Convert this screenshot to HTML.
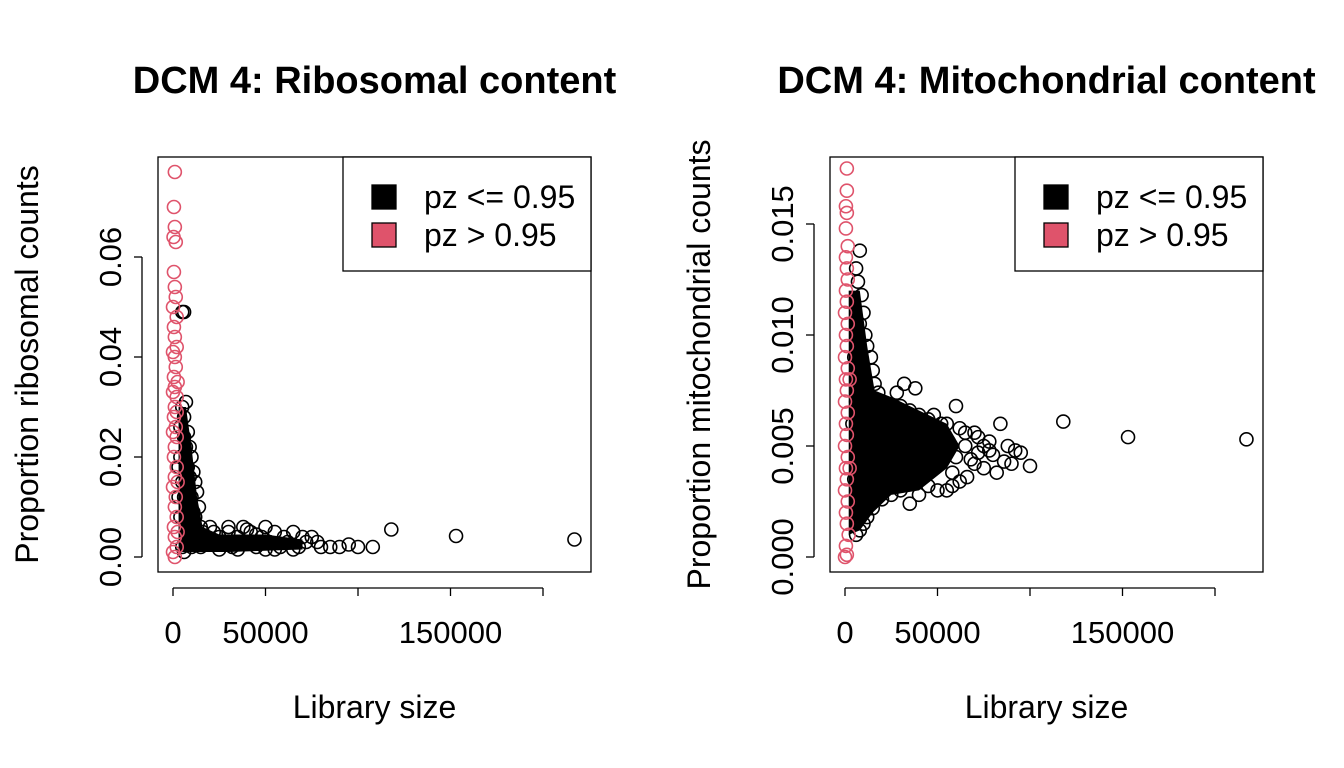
<!DOCTYPE html>
<html><head><meta charset="utf-8"><style>
html,body{margin:0;padding:0;background:#fff;}
svg{display:block;font-family:"Liberation Sans",sans-serif;}
</style></head><body>
<svg id="chart" width="1344" height="768"></svg>
<script>
// ---------- data (x in thousands of reads, y proportion) ----------
const riboBlack = [[5,0.030],[6,0.028],[7,0.031],[8,0.025],[9,0.022],[10,0.020],[6,0.049],[5,0.049],[11,0.017],[12,0.015],[13,0.013],[8,0.018],[7,0.022],[6,0.024],[9,0.016],[10,0.012],[4,0.026],[4,0.020],[5,0.015],[6,0.012],[7,0.010],[8,0.008],[9,0.007],[10,0.006],[12,0.008],[15,0.006],[14,0.010],[16,0.005],[11,0.009],[3,0.018],[3,0.012],[4,0.008],[13,0.004],[18,0.004],[20,0.003],[22,0.005],[25,0.004],[28,0.003],[30,0.005],[32,0.002],[35,0.004],[38,0.006],[40,0.003],[42,0.005],[45,0.002],[48,0.004],[50,0.006],[52,0.003],[55,0.005],[58,0.002],[60,0.004],[62,0.003],[65,0.005],[68,0.002],[70,0.004],[72,0.003],[75,0.004],[78,0.003],[80,0.002],[85,0.002],[90,0.002],[95,0.0025],[100,0.002],[108,0.002],[118,0.0055],[153,0.0042],[217,0.0035],[15,0.002],[25,0.0015],[35,0.0015],[45,0.0045],[55,0.0015],[65,0.0015],[30,0.006],[20,0.006],[10,0.002],[5,0.002],[6,0.001],[8,0.0035],[12,0.0025],[24,0.0025],[40,0.0055],[50,0.0015]];
const riboRed = [[1,0.077],[0.5,0.070],[1,0.066],[0.3,0.064],[1.5,0.063],[0.5,0.057],[1,0.054],[1.5,0.052],[0,0.050],[2,0.048],[0.5,0.046],[1,0.044],[2,0.042],[0,0.041],[1,0.040],[1.5,0.038],[0.5,0.036],[2.5,0.035],[1,0.034],[0,0.033],[2,0.032],[1,0.030],[2,0.029],[0.5,0.028],[1.5,0.026],[0,0.025],[2,0.024],[1,0.022],[0.5,0.020],[2,0.018],[1,0.016],[0,0.014],[1.5,0.012],[1,0.010],[2,0.008],[0.5,0.006],[1,0.004],[2,0.002],[0,0.001],[1,0.000],[2.5,0.015],[2.5,0.005]];
const mitoBlack = [[8,0.0138],[6,0.0130],[7,0.0124],[9,0.0118],[10,0.0110],[8,0.0105],[11,0.0100],[12,0.0095],[14,0.0090],[15,0.0084],[16,0.0078],[18,0.0074],[20,0.0070],[22,0.0068],[28,0.0074],[32,0.0078],[38,0.0076],[30,0.0068],[35,0.0066],[40,0.0064],[45,0.0062],[48,0.0064],[52,0.0060],[55,0.0060],[60,0.0068],[62,0.0058],[65,0.0056],[70,0.0056],[72,0.0054],[75,0.0050],[78,0.0048],[80,0.0046],[84,0.0060],[88,0.0050],[92,0.0048],[95,0.0047],[90,0.0042],[86,0.0043],[100,0.0041],[82,0.0038],[75,0.0040],[70,0.0042],[66,0.0036],[62,0.0034],[58,0.0032],[55,0.0030],[50,0.0030],[45,0.0032],[40,0.0028],[35,0.0024],[30,0.0030],[25,0.0028],[20,0.0026],[15,0.0022],[12,0.0018],[10,0.0015],[8,0.0012],[6,0.0010],[118,0.0061],[153,0.0054],[217,0.0053],[5,0.0090],[6,0.0070],[7,0.0050],[5,0.0035],[4,0.0060],[10,0.0080],[13,0.0070],[60,0.0045],[65,0.0050],[68,0.0044],[72,0.0047],[78,0.0052],[56,0.0052],[58,0.0038]];
const mitoRed = [[1,0.0175],[1,0.0165],[0.5,0.0158],[1,0.0155],[0.5,0.0148],[1.5,0.0140],[0.5,0.0135],[1,0.0130],[1.5,0.0125],[0.5,0.0120],[1,0.0115],[0,0.0110],[1.5,0.0105],[0.5,0.0100],[1,0.0095],[0,0.0090],[1.5,0.0085],[0.5,0.0080],[1,0.0075],[0,0.0070],[1.5,0.0065],[0.5,0.0060],[1,0.0055],[0,0.0050],[1.5,0.0045],[0.5,0.0040],[1,0.0035],[0,0.0030],[1.5,0.0025],[0.5,0.0020],[1,0.0015],[2,0.0010],[0.5,0.0005],[0,0.0000],[1,0.0001],[2.5,0.0080],[2.5,0.0040]];
// dense cores (outline of solidly overplotted region, data units)
const riboCore = [[3,0.001],[3,0.030],[7,0.030],[10,0.022],[13,0.012],[16,0.006],[25,0.0045],[50,0.0045],[70,0.0035],[70,0.0015],[30,0.001]];
const mitoCore = [[2,0.001],[2,0.012],[8,0.012],[12,0.0095],[16,0.0075],[25,0.0072],[40,0.0066],[55,0.006],[62,0.005],[55,0.004],[40,0.003],[25,0.0028],[15,0.002],[8,0.0012]];
const xTicks = [0,50,100,150,200];
const xTickLabels = ["0","50000","","150000",""];
const riboYTicks = [0,0.02,0.04,0.06];
const riboYLabels = ["0.00","0.02","0.04","0.06"];
const mitoYTicks = [0,0.005,0.010,0.015];
const mitoYLabels = ["0.000","0.005","0.010","0.015"];

const svg = document.getElementById('chart');
const NS = 'http://www.w3.org/2000/svg';
function mk(tag, attrs, parent){ const e=document.createElementNS(NS,tag); for(const k in attrs) e.setAttribute(k,attrs[k]); (parent||svg).appendChild(e); return e; }

function panel(p){
  const g = mk('g',{});
  
  
  const L=p.left, R=p.left+433, T=157, B=572;
  const sx = v => p.x0 + v*p.xs;
  const sy = v => 557 - v*p.ys;
  const t = mk('text',{x:(L+R)/2,y:93,'text-anchor':'middle','font-size':38,'font-weight':'bold'},g);
  t.textContent = p.title;
  
  
  const core = mk('polygon',{points:p.core.map(d=>sx(d[0])+','+sy(d[1])).join(' '),fill:'#000'},g);
  
  
  p.black.forEach(d=>{
    const c = mk('circle',{cx:sx(d[0]),cy:sy(d[1]),r:6.5,fill:'none',stroke:'#000','stroke-width':1.6},g);
    
    
  });
  p.red.forEach(d=>{
    const c = mk('circle',{cx:sx(d[0]),cy:sy(d[1]),r:6.5,fill:'none',stroke:'#DF536B','stroke-width':1.6},g);
    
    
  });
  const fr = mk('rect',{x:L,y:T,width:433,height:415,fill:'none',stroke:'#000','stroke-width':1.3},g);
  
  
  mk('line',{x1:sx(xTicks[0]),x2:sx(xTicks[xTicks.length-1]),y1:588,y2:588,stroke:'#000','stroke-width':1.3},g);
  xTicks.forEach((v,i)=>{
    mk('line',{x1:sx(v),x2:sx(v),y1:588,y2:596,stroke:'#000','stroke-width':1.3},g);
    if(xTickLabels[i]){
      const tl = mk('text',{x:sx(v),y:643,'text-anchor':'middle','font-size':31},g);
      tl.textContent = xTickLabels[i];
      
      
    }
  });
  mk('line',{x1:L-16,x2:L-16,y1:sy(p.yTicks[0]),y2:sy(p.yTicks[p.yTicks.length-1]),stroke:'#000','stroke-width':1.3},g);
  p.yTicks.forEach((v,i)=>{
    mk('line',{x1:L-16,x2:L-24,y1:sy(v),y2:sy(v),stroke:'#000','stroke-width':1.3},g);
    const tl = mk('text',{x:0,y:0,'text-anchor':'middle','font-size':31,transform:`translate(${L-37},${sy(v)}) rotate(-90)`},g);
    tl.textContent = p.yLabels[i];
    
    
  });
  const xt = mk('text',{x:(L+R)/2,y:718,'text-anchor':'middle','font-size':32},g);
  xt.textContent='Library size';
  
  
  const yt = mk('text',{x:0,y:0,'text-anchor':'middle','font-size':32,transform:`translate(${L-120},${(T+B)/2}) rotate(-90)`},g);
  yt.textContent=p.ytitle;
  
  
  const lg = mk('g',{},g);
  
  
  mk('rect',{x:R-248,y:T,width:248,height:114,fill:'#fff',stroke:'#000','stroke-width':1.3},lg);
  [['#000','pz <= 0.95',197],['#DF536B','pz > 0.95',235]].forEach(e=>{
    const r = mk('rect',{x:R-219,y:e[2]-12,width:24,height:24,fill:e[0],stroke:'#000','stroke-width':1.3},lg);
    
    
    const tx = mk('text',{x:R-167,y:e[2]+11,'font-size':32},lg);
    tx.textContent=e[1];
    
    
  });
}
panel({id:'ribosomal',left:158,x0:173,xs:1.85,ys:5000,title:'DCM 4: Ribosomal content',ytitle:'Proportion ribosomal counts',black:riboBlack,red:riboRed,core:riboCore,yTicks:riboYTicks,yLabels:riboYLabels});
panel({id:'mitochondrial',left:830,x0:845,xs:1.85,ys:22200,title:'DCM 4: Mitochondrial content',ytitle:'Proportion mitochondrial counts',black:mitoBlack,red:mitoRed,core:mitoCore,yTicks:mitoYTicks,yLabels:mitoYLabels});
</script>
</body></html>
